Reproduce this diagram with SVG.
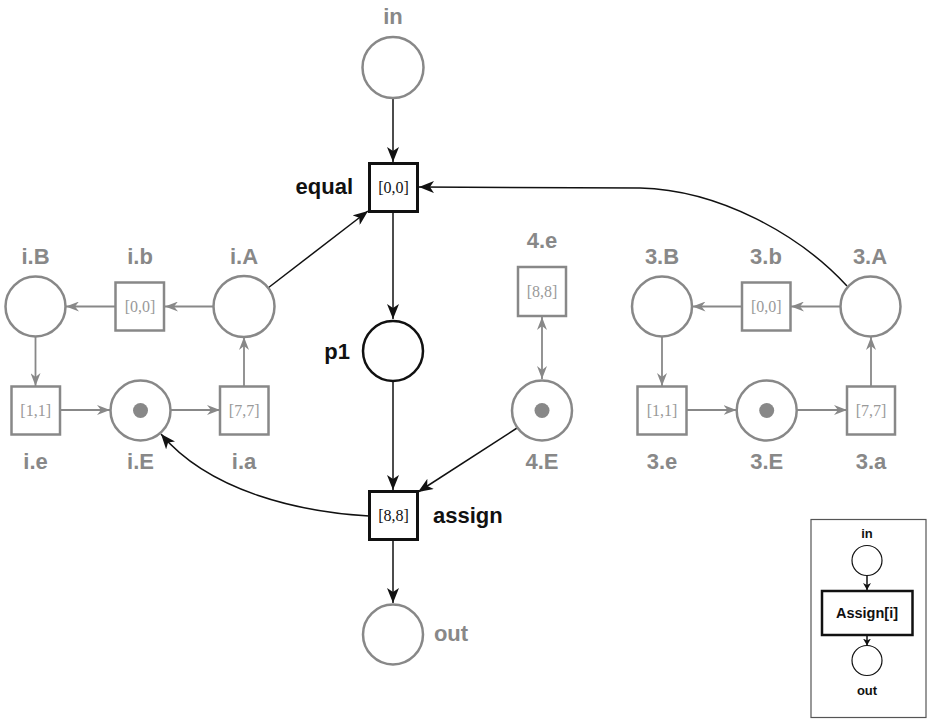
<svg xmlns="http://www.w3.org/2000/svg" width="927" height="719" viewBox="0 0 927 719">
<defs>
<marker id="ab" markerUnits="userSpaceOnUse" markerWidth="16" markerHeight="12" refX="15" refY="6" orient="auto-start-reverse"><path d="M0,0 L15,6 L0,12 L4,6 z" fill="#111"/></marker>
<marker id="ag" markerUnits="userSpaceOnUse" markerWidth="14" markerHeight="10" refX="13" refY="5" orient="auto-start-reverse"><path d="M0,0 L13,5 L0,10 L4,5 z" fill="#888"/></marker>
<marker id="as" markerUnits="userSpaceOnUse" markerWidth="8" markerHeight="8" refX="7" refY="4" orient="auto"><path d="M0,0 L7,4 L0,8 L2,4 z" fill="#111"/></marker>
</defs>
<style>
.gp{fill:#fff;stroke:#888;stroke-width:2.5}
.gt{fill:#fff;stroke:#888;stroke-width:2.5}
.bp{fill:#fff;stroke:#111;stroke-width:2.5}
.bt{fill:#fff;stroke:#111;stroke-width:3}
.tok{fill:#888}
.lg{font-family:"Liberation Sans",Arial,sans-serif;font-weight:bold;font-size:22px;fill:#888;text-anchor:middle}
.lb{font-family:"Liberation Sans",Arial,sans-serif;font-weight:bold;font-size:22px;fill:#111}
.iv{font-family:"Liberation Serif","Times New Roman",serif;font-size:16px;text-anchor:middle}
.ivg{fill:#999}
.ivb{fill:#111}
.cb{fill:none;stroke:#111;stroke-width:1.5}
.cg{fill:none;stroke:#888;stroke-width:1.8}
.ins{font-family:"Liberation Sans",Arial,sans-serif;font-weight:bold;fill:#111;text-anchor:middle}
</style>
<g id="connectors">
<line class="cb" x1="393" y1="98" x2="393" y2="162" marker-end="url(#ab)"/>
<line class="cb" x1="393" y1="211" x2="393" y2="319" marker-end="url(#ab)"/>
<line class="cb" x1="393" y1="381" x2="393" y2="490" marker-end="url(#ab)"/>
<line class="cb" x1="393" y1="540" x2="393" y2="603" marker-end="url(#ab)"/>
<line class="cb" x1="268" y1="288" x2="368" y2="211" marker-end="url(#ab)"/>
<path class="cb" d="M847,286 C800,235 720,190 640,188 L419,187" marker-end="url(#ab)"/>
<line class="cb" x1="517" y1="428" x2="418" y2="492" marker-end="url(#ab)"/>
<path class="cb" d="M369,516 C300,512 210,492 161,434" marker-end="url(#ab)"/>
<line class="cg" x1="213" y1="306.5" x2="165" y2="306.5" marker-end="url(#ag)"/>
<line class="cg" x1="115" y1="306.5" x2="66" y2="306.5" marker-end="url(#ag)"/>
<line class="cg" x1="35.5" y1="337" x2="35.5" y2="386" marker-end="url(#ag)"/>
<line class="cg" x1="60" y1="410" x2="110" y2="410" marker-end="url(#ag)"/>
<line class="cg" x1="171" y1="410" x2="220" y2="410" marker-end="url(#ag)"/>
<line class="cg" x1="244" y1="386" x2="244" y2="337" marker-end="url(#ag)"/>
<line class="cg" x1="840" y1="306.5" x2="791" y2="306.5" marker-end="url(#ag)"/>
<line class="cg" x1="742" y1="306.5" x2="692.5" y2="306.5" marker-end="url(#ag)"/>
<line class="cg" x1="662" y1="337" x2="662" y2="386" marker-end="url(#ag)"/>
<line class="cg" x1="686.5" y1="410" x2="736.5" y2="410" marker-end="url(#ag)"/>
<line class="cg" x1="797" y1="410" x2="847" y2="410" marker-end="url(#ag)"/>
<line class="cg" x1="871" y1="386" x2="871" y2="337" marker-end="url(#ag)"/>
<line class="cg" x1="542" y1="317" x2="542" y2="379" marker-start="url(#ag)" marker-end="url(#ag)"/>
</g>
<g id="in"><circle class="gp" cx="393" cy="67.5" r="30.5"/><text class="lg" x="393" y="24">in</text></g>
<g id="equal"><rect class="bt" x="369.5" y="163.5" width="48" height="48"/><text class="iv ivb" x="393.5" y="193">[0,0]</text><text class="lb" x="353" y="194" text-anchor="end">equal</text></g>
<g id="p1"><circle class="bp" cx="393" cy="351" r="30"/><text class="lb" x="350" y="359" text-anchor="end">p1</text></g>
<g id="assign"><rect class="bt" x="369.5" y="491.5" width="48" height="48"/><text class="iv ivb" x="393.5" y="521">[8,8]</text><text class="lb" x="433" y="523">assign</text></g>
<g id="out"><circle class="gp" cx="393" cy="634.5" r="30"/><text class="lg" x="451" y="641">out</text></g>
<g id="iB"><circle class="gp" cx="35.5" cy="306.5" r="30"/><text class="lg" x="35.5" y="264">i.B</text></g>
<g id="ib"><rect class="gt" x="115.5" y="282.5" width="48.5" height="48"/><text class="iv ivg" x="140" y="312">[0,0]</text><text class="lg" x="140" y="264">i.b</text></g>
<g id="iA"><circle class="gp" cx="244" cy="306.5" r="30.5"/><text class="lg" x="244" y="264">i.A</text></g>
<g id="ie"><rect class="gt" x="11.5" y="386.5" width="48.5" height="48"/><text class="iv ivg" x="35.7" y="416">[1,1]</text><text class="lg" x="35.5" y="469">i.e</text></g>
<g id="iE"><circle class="gp" cx="140.5" cy="410.5" r="30"/><circle class="tok" cx="140.5" cy="410.5" r="7.5"/><text class="lg" x="140.5" y="469">i.E</text></g>
<g id="ia"><rect class="gt" x="220" y="386.5" width="48.5" height="48"/><text class="iv ivg" x="244.2" y="416">[7,7]</text><text class="lg" x="244" y="469">i.a</text></g>
<g id="4e"><rect class="gt" x="518" y="267" width="48" height="49"/><text class="iv ivg" x="542" y="296.5">[8,8]</text><text class="lg" x="542" y="248">4.e</text></g>
<g id="4E"><circle class="gp" cx="542" cy="410.5" r="30"/><circle class="tok" cx="542" cy="410.5" r="7.5"/><text class="lg" x="542" y="469">4.E</text></g>
<g id="3B"><circle class="gp" cx="662" cy="306.5" r="30"/><text class="lg" x="662" y="264">3.B</text></g>
<g id="3b"><rect class="gt" x="742" y="282.5" width="48.5" height="48"/><text class="iv ivg" x="766.3" y="312">[0,0]</text><text class="lg" x="766" y="264">3.b</text></g>
<g id="3A"><circle class="gp" cx="870.5" cy="306.5" r="30"/><text class="lg" x="870" y="264">3.A</text></g>
<g id="3e"><rect class="gt" x="637.5" y="386.5" width="49" height="48"/><text class="iv ivg" x="662" y="416">[1,1]</text><text class="lg" x="662" y="469">3.e</text></g>
<g id="3E"><circle class="gp" cx="766.7" cy="410.5" r="30"/><circle class="tok" cx="766.7" cy="410.5" r="7.5"/><text class="lg" x="766.7" y="469">3.E</text></g>
<g id="3a"><rect class="gt" x="847" y="386.5" width="48" height="48"/><text class="iv ivg" x="871" y="416">[7,7]</text><text class="lg" x="871" y="469">3.a</text></g>
<g id="inset">
<rect x="811" y="519.5" width="115" height="198" fill="#fff" stroke="#555" stroke-width="1.2"/>
<text class="ins" x="867" y="538" font-size="13">in</text>
<circle cx="867" cy="560.5" r="15" fill="#fff" stroke="#111" stroke-width="1.2"/>
<line class="cb" x1="867" y1="575.5" x2="867" y2="590" stroke-width="1" marker-end="url(#as)"/>
<rect x="822" y="591" width="90.5" height="44" fill="#fff" stroke="#111" stroke-width="2.5"/>
<text class="ins" x="867" y="618" font-size="14.5">Assign[i]</text>
<line class="cb" x1="867" y1="636" x2="867" y2="645.5" stroke-width="1" marker-end="url(#as)"/>
<circle cx="867" cy="660.5" r="15" fill="#fff" stroke="#111" stroke-width="1.2"/>
<text class="ins" x="867" y="695" font-size="13">out</text>
</g>
</svg>
